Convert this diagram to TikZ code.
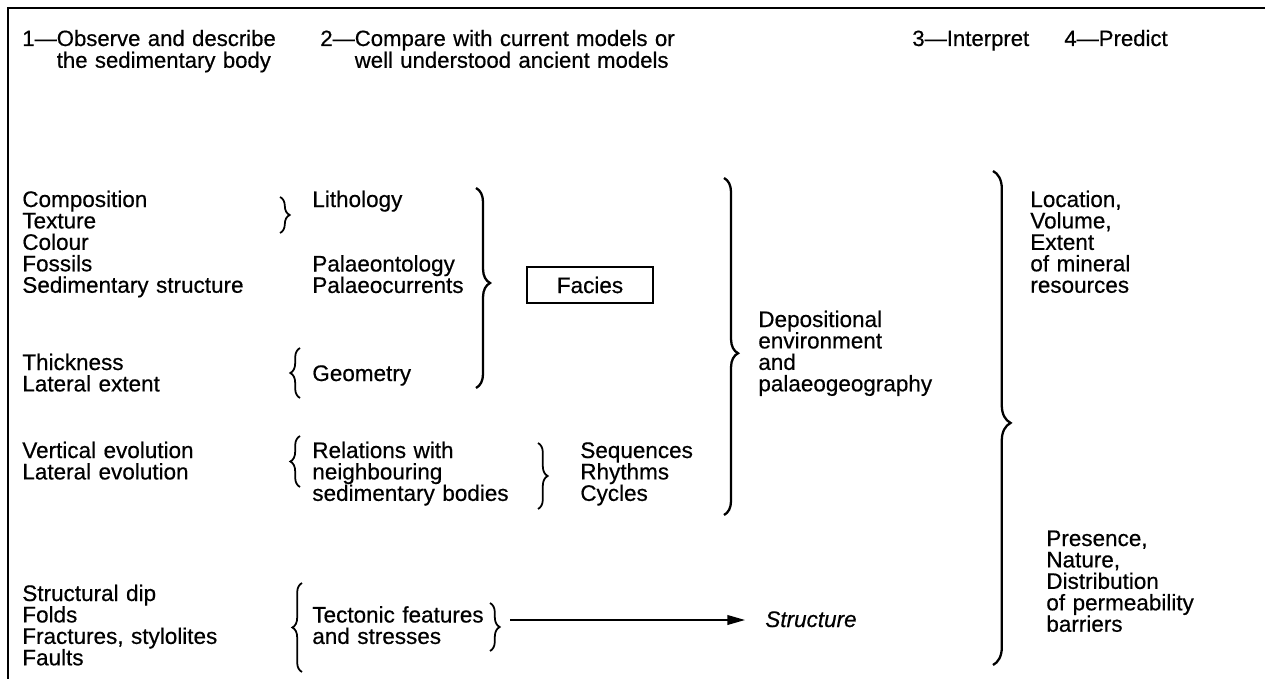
\documentclass[tikz,border=0pt]{standalone}
\usepackage{fontspec}
\setmainfont{Liberation Sans}[FakeBold=0.5]
\usepackage{tikz}
\usetikzlibrary{arrows.meta, decorations.pathreplacing}
\newcommand{\bodyfont}{\fontsize{12.8pt}{12.2pt}\selectfont\lineskiplimit=-6pt}
\newcommand{\headfont}{\fontsize{12.6pt}{12.4pt}\selectfont\lineskiplimit=-6pt}
\tikzset{
  txt/.style={anchor=base west, align=left, text width=6cm,
    inner sep=0pt, font=\bodyfont},
  hd/.style={txt, font=\headfont, text width=8cm},
  grp/.style={decorate, decoration={brace, amplitude=5.5pt}, line width=1pt},
  biggrp/.style={decorate, decoration={brace, amplitude=8pt, aspect=#1},
    line width=1.3pt},
  arrow/.style={-{Triangle[length=10pt, width=5.5pt]}, line width=0.9pt},
  facbox/.style={draw, line width=1pt, minimum width=2.52cm,
    minimum height=0.72cm, inner sep=0pt, font=\bodyfont},
  frame/.style={line width=1.1pt}
}

\begin{document}
\begin{tikzpicture}[x=0.02cm, y=-0.02cm]
  \useasboundingbox (0,0) rectangle (1265,679);

  % Frame (top and left only)
  \draw[frame] (8,679) -- (8,8) -- (1265,8);

  % Column headers
  \node[hd] (hobs) at (22,46) {1—Observe and describe\\\phantom{1—}the sedimentary body};
  \node[hd] (hcmp) at (320,46) {2—Compare with current models or\\\phantom{2—}well understood ancient models};
  \node[hd] (hint) at (912,46) {3—Interpret};
  \node[hd] (hpre) at (1064,46) {4—Predict};

  % Column 1: observations
  \node[txt] (comp) at (22,207) {Composition\\Texture\\Colour\\Fossils\\Sedimentary structure};
  \node[txt] (thick) at (22,370) {Thickness\\Lateral extent};
  \node[txt] (evol) at (22,458) {Vertical evolution\\Lateral evolution};
  \node[txt] (tect) at (22,601) {Structural dip\\Folds\\Fractures, stylolites\\Faults};

  % Column 2: models
  \node[txt] (lith) at (312,207) {Lithology};
  \node[txt] (pal) at (312,271.5) {Palaeontology\\Palaeocurrents};
  \node[txt] (geom) at (312,381) {Geometry};
  \node[txt] (rel) at (312,458) {Relations with\\neighbouring\\sedimentary bodies};
  \node[txt] (tfeat) at (312,622.5) {Tectonic features\\and stresses};
  \node[txt] (seq) at (580,458) {Sequences\\Rhythms\\Cycles};
  \node[facbox] (fac) at (590,285) {Facies};

  % Column 3: interpretation
  \node[txt] (dep) at (758,327) {Depositional\\environment\\and\\palaeogeography};
  \node[txt, font=\bodyfont\itshape] (struct) at (765,627) {Structure};

  % Column 4: prediction
  \node[txt] (loc) at (1030,207) {Location,\\Volume,\\Extent\\of mineral\\resources};
  \node[txt] (pres) at (1046,546) {Presence,\\Nature,\\Distribution\\of permeability\\barriers};

  % Braces
  \draw[grp] (280,197) -- (280,233);
  \draw[grp] (300,398) -- (300,348);
  \draw[grp] (300,487) -- (300,436);
  \draw[grp] (302,672) -- (302,583);
  \draw[grp] (538,443) -- (538,509);
  \draw[grp] (490,603) -- (490,651);
  \draw[biggrp=0.475] (476,188) -- (476,388);
  \draw[biggrp=0.52] (724,178) -- (724,515);
  \draw[biggrp=0.51, decoration={amplitude=10pt}] (993,171) -- (993,665);

  % Arrow to structure
  \coordinate (ttip) at (510,620);
  \draw[arrow, shorten >=0.4cm] (ttip) -- (ttip -| struct.west);
\end{tikzpicture}
\end{document}
